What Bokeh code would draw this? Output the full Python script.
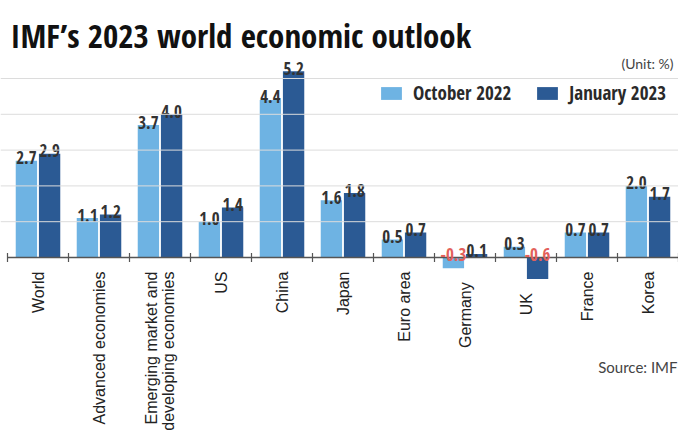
import numpy as np
from bokeh.plotting import figure
from bokeh.models import ColumnDataSource, Range1d, Span, Label, Legend, LegendItem
from bokeh.core.properties import value
from bokeh.embed import file_html
from bokeh.resources import INLINE

# ---- data ----
categories = ["World", "Advanced economies", "Emerging market and\ndeveloping economies",
              "US", "China", "Japan", "Euro area", "Germany", "UK", "France", "Korea"]
oct_2022 = [2.7, 1.1, 3.7, 1.0, 4.4, 1.6, 0.5, -0.3, 0.3, 0.7, 2.0]
jan_2023 = [2.9, 1.2, 4.0, 1.4, 5.2, 1.8, 0.7, 0.1, -0.6, 0.7, 1.7]
series_names = ["October 2022", "January 2023"]
y_ticks = [1, 2, 3, 4, 5]

# ---- style ----
LIGHT = "#6eb3e3"
DARK = "#2b5a94"
NEG = "#e3605a"
COND = "Open Sans Condensed"
SOFT = "Lato"
REG = "Liberation Sans"
W, H = 678, 435
PX_X = 61.0
PX_Y = 35.8
BASE = 257
LEFT = 7

n = len(categories)
idx = np.arange(n)
off = 0.19
bw = 0.35

p = figure(width=W, height=H, output_backend="svg", toolbar_location=None,
           x_range=Range1d(-0.5 - LEFT / PX_X, n - 0.5),
           y_range=Range1d(-(H - BASE) / PX_Y, BASE / PX_Y),
           x_axis_location=None, y_axis_location=None, min_border=0,
           outline_line_color=None, background_fill_color="white")
p.min_border_left = p.min_border_right = p.min_border_top = p.min_border_bottom = 0
p.xgrid.visible = False
p.ygrid.visible = False

for t in y_ticks:
    p.add_layout(Span(location=t, dimension="width", line_color="#dcdcdc", line_width=1))

src = ColumnDataSource(dict(
    x_oct=idx - off, x_jan=idx + off, oct=oct_2022, jan=jan_2023,
    y_oct=[max(v, 0) for v in oct_2022], y_jan=[max(v, 0) for v in jan_2023],
    t_oct=[f"{v:.1f}" for v in oct_2022], t_jan=[f"{v:.1f}" for v in jan_2023],
    c_oct=[NEG if v < 0 else "#333333" for v in oct_2022],
    c_jan=[NEG if v < 0 else "#333333" for v in jan_2023],
))

r1 = p.vbar(x="x_oct", top="oct", bottom=0, width=bw, source=src,
            fill_color=LIGHT, line_color=None)
r2 = p.vbar(x="x_jan", top="jan", bottom=0, width=bw, source=src,
            fill_color=DARK, line_color=None)

bounds = np.arange(n + 1) - 0.5
p.segment(x0=[bounds[0]], y0=[0], x1=[bounds[-1]], y1=[0], line_color="#555555", line_width=1.3)
p.scatter(x=bounds, y=np.zeros(n + 1), marker="dash", angle=np.pi / 2, size=9,
          line_color="#555555", line_width=1.2)

for xs, ys, ts, cs in (("x_oct", "y_oct", "t_oct", "c_oct"), ("x_jan", "y_jan", "t_jan", "c_jan")):
    p.text(x=xs, y=ys, text=ts, source=src, text_color=cs, text_align="center",
           text_baseline="alphabetic", y_offset=-3, text_font=value(COND),
           text_font_style="bold", text_font_size="17px")

low = [min(0, a, b) for a, b in zip(oct_2022, jan_2023)]
p.text(x=idx, y=low, text=categories, angle=np.pi / 2, text_align="right",
       text_baseline="middle", y_offset=14, text_font=value(REG),
       text_font_size="16px", text_color="#222222", text_line_height=1.05)

p.add_layout(Label(x=10, y=H - 35, x_units="screen", y_units="screen",
                   text="IMF\u2019s 2023 world economic outlook", text_font=COND,
                   text_font_style="bold", text_font_size="33px", text_color="#111111",
                   text_baseline="alphabetic"))
p.add_layout(Label(x=673, y=H - 63, x_units="screen", y_units="screen", text="(Unit: %)",
                   text_font=SOFT, text_font_size="14px", text_color="#444444",
                   text_align="right", text_baseline="alphabetic"))
p.add_layout(Label(x=677, y=H - 366, x_units="screen", y_units="screen", text="Source: IMF",
                   text_font=SOFT, text_font_size="15px", text_color="#444444",
                   text_align="right", text_baseline="alphabetic"))

legend = Legend(items=[LegendItem(label=series_names[0], renderers=[r1]),
                       LegendItem(label=series_names[1], renderers=[r2])],
                orientation="horizontal", location=(378, H - 106),
                glyph_width=26, glyph_height=16, label_standoff=9, spacing=23,
                padding=0, margin=0, border_line_color=None, background_fill_alpha=0,
                label_text_font=COND, label_text_font_style="bold",
                label_text_font_size="19px", label_text_color="#2a2a2a")
p.add_layout(legend)

open("out.html", "w").write(file_html(p, INLINE))
